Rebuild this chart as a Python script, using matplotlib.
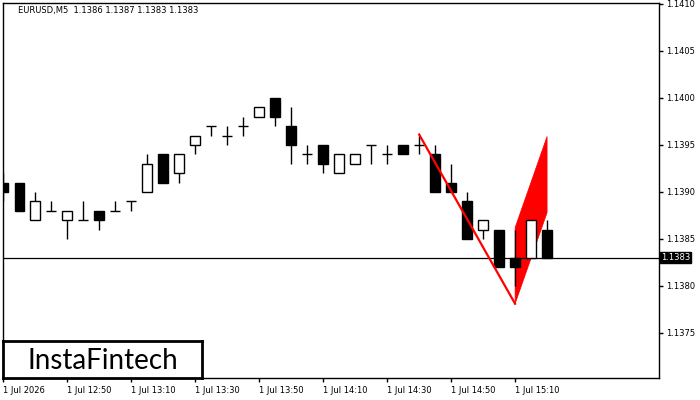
import matplotlib
matplotlib.use("Agg")
import matplotlib.pyplot as plt
from matplotlib.patches import Polygon, Rectangle

# EURUSD M5 bars, 12:30 .. 15:20
times = ["12:30", "12:35", "12:40", "12:45", "12:50", "12:55", "13:00", "13:05",
         "13:10", "13:15", "13:20", "13:25", "13:30", "13:35", "13:40", "13:45",
         "13:50", "13:55", "14:00", "14:05", "14:10", "14:15", "14:20", "14:25",
         "14:30", "14:35", "14:40", "14:45", "14:50", "14:55", "15:00", "15:05",
         "15:10", "15:15", "15:20"]
opens = [1.1391, 1.1391, 1.1387, 1.1388, 1.1387, 1.1387, 1.1388, 1.1388,
         1.1389, 1.1390, 1.1394, 1.1392, 1.1395, 1.1397, 1.1396, 1.1397,
         1.1398, 1.1400, 1.1397, 1.1394, 1.1395, 1.1392, 1.1393, 1.1395,
         1.1394, 1.1395, 1.1395, 1.1394, 1.1391, 1.1389, 1.1386, 1.1386,
         1.1383, 1.1383, 1.1386]
highs = [1.1392, 1.1391, 1.1390, 1.1389, 1.1388, 1.1389, 1.1388, 1.1389,
         1.1389, 1.1394, 1.1394, 1.1394, 1.1396, 1.1397, 1.1397, 1.1398,
         1.1399, 1.1400, 1.1399, 1.1395, 1.1395, 1.1394, 1.1394, 1.1395,
         1.1395, 1.1395, 1.1396, 1.1395, 1.1393, 1.1390, 1.1387, 1.1386,
         1.1386, 1.1387, 1.1387]
lows = [1.1389, 1.1388, 1.1387, 1.1388, 1.1385, 1.1387, 1.1386, 1.1388,
        1.1388, 1.1390, 1.1391, 1.1391, 1.1394, 1.1396, 1.1395, 1.1396,
        1.1398, 1.1397, 1.1393, 1.1393, 1.1392, 1.1392, 1.1393, 1.1393,
        1.1393, 1.1394, 1.1394, 1.1390, 1.1390, 1.1385, 1.1385, 1.1382,
        1.1380, 1.1383, 1.1383]
closes = [1.1390, 1.1388, 1.1389, 1.1388, 1.1388, 1.1387, 1.1387, 1.1388,
          1.1389, 1.1393, 1.1391, 1.1394, 1.1396, 1.1397, 1.1396, 1.1397,
          1.1399, 1.1398, 1.1395, 1.1394, 1.1393, 1.1394, 1.1394, 1.1395,
          1.1394, 1.1394, 1.1395, 1.1390, 1.1390, 1.1385, 1.1387, 1.1382,
          1.1382, 1.1387, 1.1383]

last_price = 1.1383
header = "EURUSD,M5  1.1386 1.1387 1.1383 1.1383"

# pattern: pole (bar index, price) and flag polygon
pole_x = [26, 32]
pole_y = [1.13961, 1.13781]
flag_x = [32, 32, 34, 34]
flag_y = [1.13781, 1.13862, 1.13959, 1.13878]

price_ticks = [1.1375, 1.1380, 1.1385, 1.1390, 1.1395, 1.1400, 1.1405, 1.1410]
xtick_idx = [0, 4, 8, 12, 16, 20, 24, 28, 32]
xtick_labels = ["1 Jul 2026"] + ["1 Jul " + times[i] for i in xtick_idx[1:]]

fig = plt.figure(figsize=(7, 4), dpi=100)
ax = fig.add_axes([3 / 700, 22 / 400, 656 / 700, 375 / 400])

idx = list(range(len(times)))
ax.vlines(idx, lows, highs, color="black", linewidth=1, zorder=2)
for i in idx:
    o, c = opens[i], closes[i]
    fc = "white" if c >= o else "black"
    ax.add_patch(Rectangle((i - 0.31, min(o, c)), 0.62, abs(c - o),
                           facecolor=fc, edgecolor="black", linewidth=1, zorder=3))

ax.add_patch(Polygon(list(zip(flag_x, flag_y)), closed=True, facecolor="#ff0000",
                     edgecolor="#ff0000", linewidth=0.5, zorder=1))
ax.plot(pole_x, pole_y, color="#ff0000", linewidth=1.6, zorder=4)

ax.axhline(last_price, color="black", linewidth=0.9, zorder=1.5)

ax.set_xlim(-0.03, 41)
ax.set_ylim(1.13702, 1.14101)

for s in ax.spines.values():
    s.set_linewidth(1)

ax.yaxis.tick_right()
ax.set_yticks(price_ticks)
ax.set_yticklabels([f"{p:.4f}" for p in price_ticks])
ax.set_xticks(xtick_idx)
ax.set_xticklabels(xtick_labels, ha="left")
ax.tick_params(axis="both", length=3, width=1, labelsize=6, pad=2)
ax.tick_params(axis="x", pad=3)

ax.text(1.003, (last_price - 1.13702) / (1.14101 - 1.13702), f"{last_price:.4f}",
        transform=ax.transAxes, fontsize=6, color="white", va="center", ha="left",
        bbox=dict(boxstyle="square,pad=0.15", facecolor="black", edgecolor="black"))

fig.text(18 / 700, 1 - 10 / 400, header, fontsize=6, va="center", ha="left")

logo = fig.add_axes([3 / 700, 22 / 400, 199 / 700, 37 / 400])
logo.set_xticks([])
logo.set_yticks([])
for s in logo.spines.values():
    s.set_linewidth(2)
logo.text(0.5, 0.45, "InstaFintech", fontsize=20, family="Lato",
          ha="center", va="center", transform=logo.transAxes)

fig.savefig("out.png", dpi=100)
